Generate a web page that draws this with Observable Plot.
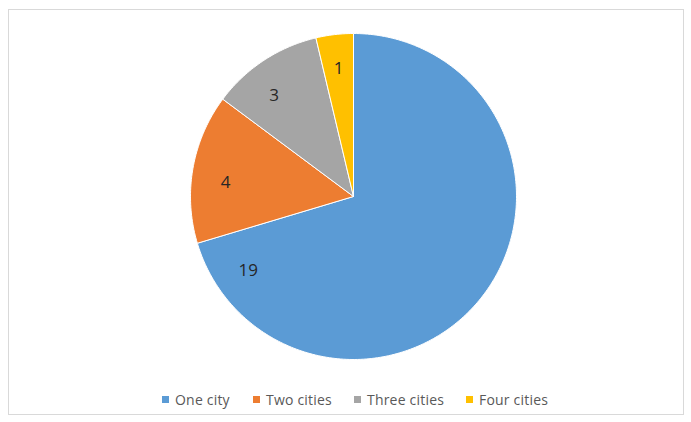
<!DOCTYPE html>
<html>
<head>
<meta charset="utf-8">
<script src="https://cdn.jsdelivr.net/npm/d3@7"></script>
<script src="https://cdn.jsdelivr.net/npm/@observablehq/plot@0.6"></script>
<style>
  html, body { margin: 0; padding: 0; background: #fff; }
  #wrap { position: relative; width: 691px; height: 422px; overflow: hidden; background: #fff; }
  #frame { position: absolute; left: 8px; top: 9px; width: 676px; height: 406px; border: 1px solid #d9d9d9; box-sizing: border-box; }
  #chart { position: absolute; left: 0; top: 0; }
  #legend { position: absolute; left: 0; top: 389px; width: 691px; height: 20px;
            font-family: "Open Sans", "Liberation Sans", sans-serif; font-size: 14px; color: #595959; }
  .item { position: absolute; top: 0; display: flex; align-items: center; height: 20px; white-space: nowrap; letter-spacing: 0.2px; }
  .sw { width: 7px; height: 7px; margin-right: 6px; }
</style>
</head>
<body>
<div id="wrap">
  <div id="frame"></div>
  <div id="chart"></div>
  <div id="legend"></div>
</div>
<script>
// Data
const categories = ["One city", "Two cities", "Three cities", "Four cities"];
const counts = [19, 4, 3, 1];
const colors = ["#5B9BD5", "#ED7D31", "#A5A5A5", "#FFC000"];

// Layout constants (not data)
const W = 691, H = 385;
const cx = 353, cy = 196, R = 163;
const labelFrac = [0.927, 0.43, 0.38, 0.5]; // position of label within each slice's angular span
const labelR = 0.79;
const legendLeft = [162, 253, 354, 466];

const pie = d3.pie().sort(null).value(d => d.value)(categories.map((c, i) => ({cat: c, value: counts[i]})));

// Build slice polygons
const pts = [];
pie.forEach((s, i) => {
  const cat = s.data.cat;
  pts.push({cat, x: 0, y: 0});
  const n = Math.max(2, Math.ceil((s.endAngle - s.startAngle) / (Math.PI / 180)));
  for (let k = 0; k <= n; k++) {
    const a = s.startAngle + (s.endAngle - s.startAngle) * k / n;
    pts.push({cat, x: Math.sin(a), y: Math.cos(a)});
  }
  pts.push({cat, x: 0, y: 0});
});

const labels = pie.map((s, i) => {
  const a = s.startAngle + (s.endAngle - s.startAngle) * labelFrac[i];
  return {cat: s.data.cat, value: s.data.value, x: labelR * Math.sin(a), y: labelR * Math.cos(a)};
});

const plot = Plot.plot({
  width: W,
  height: H,
  marginLeft: cx - R,
  marginRight: W - (cx + R),
  marginTop: cy - R,
  marginBottom: H - (cy + R),
  x: {domain: [-1, 1], axis: null},
  y: {domain: [-1, 1], axis: null},
  color: {domain: categories, range: colors},
  style: {background: "transparent", overflow: "visible"},
  marks: [
    Plot.line(pts, {x: "x", y: "y", z: "cat", fill: "cat", stroke: "#ffffff", strokeWidth: 1, strokeLinejoin: "round", curve: "linear"}),
    Plot.text(labels, {x: "x", y: "y", text: d => String(d.value), fill: "#262626", fontSize: 17,
      fontFamily: "'Open Sans', 'Liberation Sans', sans-serif"})
  ]
});
document.getElementById("chart").appendChild(plot);

// Legend
const legend = document.getElementById("legend");
categories.forEach((c, i) => {
  const item = document.createElement("div");
  item.className = "item";
  item.style.left = legendLeft[i] + "px";
  const sw = document.createElement("div");
  sw.className = "sw";
  sw.style.background = colors[i];
  const t = document.createElement("span");
  t.textContent = c;
  item.appendChild(sw);
  item.appendChild(t);
  legend.appendChild(item);
});
</script>
</body>
</html>
